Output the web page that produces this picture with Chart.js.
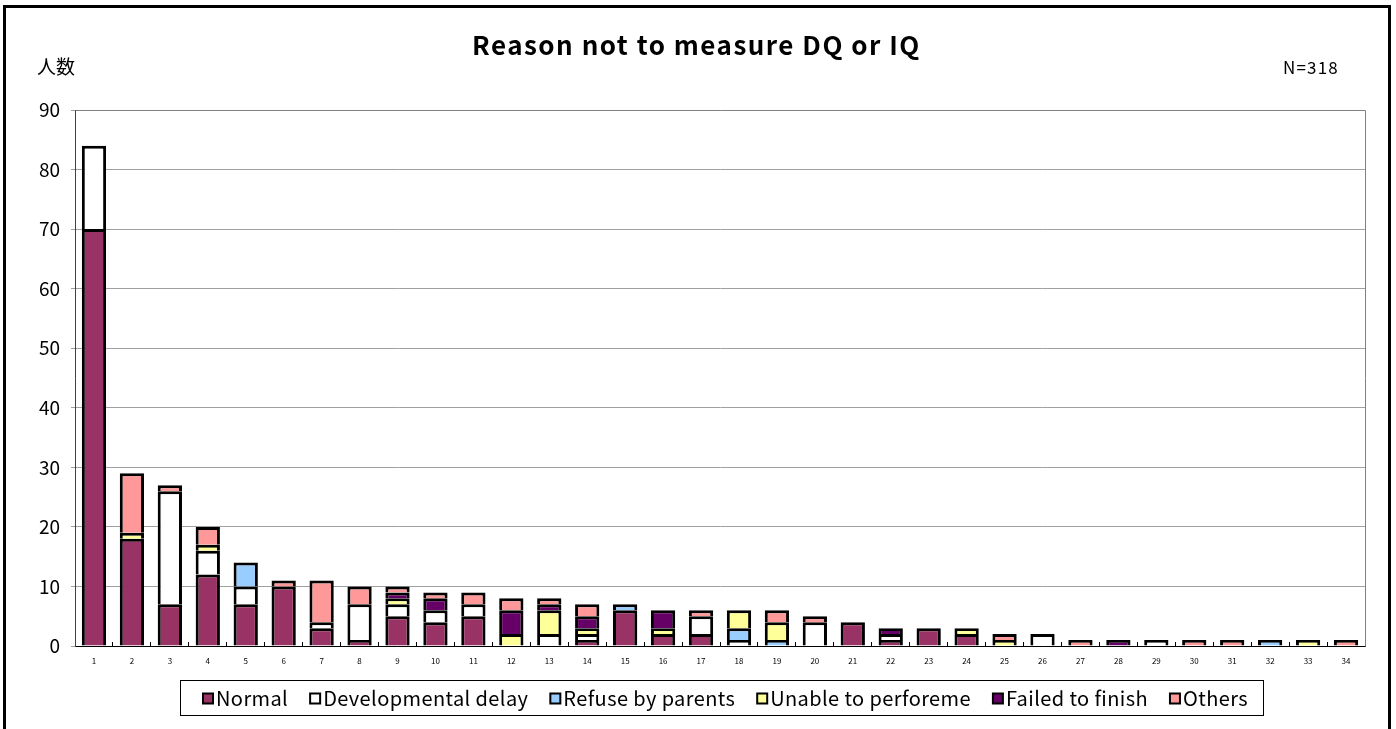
<!DOCTYPE html>
<html>
<head>
<meta charset="utf-8">
<title>Reason not to measure DQ or IQ</title>
<script src="https://cdn.jsdelivr.net/npm/chart.js@4.4.1/dist/chart.umd.min.js"></script>
<style>
  html, body { margin: 0; padding: 0; background: #fff; }
</style>
</head>
<body>
<canvas id="grafico" width="1396" height="729"></canvas>
<script>
// categorias (eixo x) e valores por motivo
const categorias = ["1", "2", "3", "4", "5", "6", "7", "8", "9", "10", "11", "12", "13", "14", "15", "16", "17",
  "18", "19", "20", "21", "22", "23", "24", "25", "26", "27", "28", "29", "30", "31", "32", "33", "34"];

const normal        = [70, 18, 7, 12, 7, 10, 3, 1, 5, 4, 5, 0, 0, 1, 6, 2, 2, 0, 0, 0, 4, 1, 3, 2, 0, 0, 0, 0, 0, 0, 0, 0, 0, 0];
const developmental = [14, 0, 19, 4, 3, 0, 1, 6, 2, 2, 2, 0, 2, 1, 0, 0, 3, 1, 0, 4, 0, 1, 0, 0, 0, 2, 0, 0, 1, 0, 0, 0, 0, 0];
const refuse        = [0, 0, 0, 0, 4, 0, 0, 0, 0, 0, 0, 0, 0, 0, 1, 0, 0, 2, 1, 0, 0, 0, 0, 0, 0, 0, 0, 0, 0, 0, 0, 1, 0, 0];
const unable        = [0, 1, 0, 1, 0, 0, 0, 0, 1, 0, 0, 2, 4, 1, 0, 1, 0, 3, 3, 0, 0, 0, 0, 1, 1, 0, 0, 0, 0, 0, 0, 0, 1, 0];
const failed        = [0, 0, 0, 0, 0, 0, 0, 0, 1, 2, 0, 4, 1, 2, 0, 3, 0, 0, 0, 0, 0, 1, 0, 0, 0, 0, 0, 1, 0, 0, 0, 0, 0, 0];
const others        = [0, 10, 1, 3, 0, 1, 7, 3, 1, 1, 2, 2, 1, 2, 0, 0, 1, 0, 2, 1, 0, 0, 0, 0, 1, 0, 1, 0, 0, 1, 1, 0, 0, 1];

const yTicks = [0, 10, 20, 30, 40, 50, 60, 70, 80, 90];

const FONTE = '"Noto Sans CJK JP", "Noto Sans", sans-serif';

function serie(label, valores, cor) {
  return {
    label: label,
    data: valores.map((v) => (v === 0 ? null : v)),
    backgroundColor: cor,
    borderColor: "#000000",
    borderWidth: 3,
  };
}

const datasets = [
  serie("Normal", normal, "#993366"),
  serie("Developmental delay", developmental, "#FFFFFF"),
  serie("Refuse by parents", refuse, "#99CCFF"),
  serie("Unable to perforeme", unable, "#FFFF99"),
  serie("Failed to finish", failed, "#660066"),
  serie("Others", others, "#FF9999"),
];

// escreve texto esticado ate a largura pedida (fonte do original e mais larga)
function textoLargo(ctx, texto, x, y, largura) {
  ctx.letterSpacing = "0px";
  const w = ctx.measureText(texto).width;
  const extra = (largura - w) / texto.length;
  ctx.letterSpacing = extra.toFixed(2) + "px";
  ctx.fillText(texto, x, y);
  ctx.letterSpacing = "0px";
}

// moldura, titulo, textos e legenda desenhados a mao
const moldura = {
  id: "moldura",
  beforeDraw(chart) {
    const ctx = chart.ctx;
    ctx.save();
    ctx.fillStyle = "#ffffff";
    ctx.fillRect(0, 0, chart.width, chart.height);
    ctx.restore();
  },
  afterDraw(chart) {
    const ctx = chart.ctx;
    const area = chart.chartArea;
    ctx.save();

    // borda cinza da area do grafico (topo e direita)
    ctx.strokeStyle = "#808080";
    ctx.lineWidth = 1;
    ctx.beginPath();
    ctx.moveTo(Math.round(area.left) + 0.5, Math.round(area.top) + 0.5);
    ctx.lineTo(Math.round(area.right) + 0.5, Math.round(area.top) + 0.5);
    ctx.lineTo(Math.round(area.right) + 0.5, Math.round(area.bottom) + 0.5);
    ctx.stroke();

    // moldura externa
    ctx.strokeStyle = "#000000";
    ctx.lineWidth = 3;
    ctx.strokeRect(4.5, 6.5, 1385, 740);

    // titulo
    ctx.fillStyle = "#000000";
    ctx.textBaseline = "middle";
    ctx.textAlign = "left";
    ctx.font = "bold 26px " + FONTE;
    textoLargo(ctx, "Reason not to measure DQ or IQ", 472, 45, 449);

    ctx.font = "19px " + FONTE;
    ctx.fillText("人数", 37, 67);

    ctx.font = "17px " + FONTE;
    textoLargo(ctx, "N=318", 1283, 68, 56);

    // legenda
    const caixa = { x: 180, y: 680, w: 1083, h: 35 };
    ctx.lineWidth = 1;
    ctx.strokeStyle = "#000000";
    ctx.strokeRect(caixa.x + 0.5, caixa.y + 0.5, caixa.w, caixa.h);

    ctx.font = "20px " + FONTE;
    ctx.letterSpacing = "0.4px";
    const quad = 10;
    const gapTexto = 3;
    const larguras = chart.data.datasets.map((d) => ctx.measureText(d.label).width);
    const inicio = 203;
    const fim = 1248;
    const soma = larguras.reduce((a, b) => a + b + quad + gapTexto, 0);
    const gap = (fim - inicio - soma) / (larguras.length - 1);
    let x = inicio;
    const cy = caixa.y + caixa.h / 2 + 1;
    chart.data.datasets.forEach((d, i) => {
      ctx.fillStyle = d.backgroundColor;
      ctx.fillRect(x, cy - quad / 2, quad, quad);
      ctx.strokeStyle = "#000000";
      ctx.lineWidth = 2;
      ctx.strokeRect(x, cy - quad / 2, quad, quad);
      ctx.fillStyle = "#000000";
      ctx.fillText(d.label, x + quad + gapTexto, cy);
      x += quad + gapTexto + larguras[i] + gap;
    });
    ctx.letterSpacing = "0px";

    ctx.restore();
  },
};

new Chart(document.getElementById("grafico"), {
  type: "bar",
  data: {
    labels: categorias,
    datasets: datasets,
  },
  options: {
    responsive: false,
    animation: false,
    layout: {
      padding: { left: 0, right: 31, top: 110, bottom: 57 },
    },
    datasets: {
      bar: {
        categoryPercentage: 1,
        barPercentage: 0.64,
      },
    },
    plugins: {
      legend: { display: false },
      title: { display: false },
      tooltip: { enabled: false },
    },
    scales: {
      x: {
        stacked: true,
        afterFit: (scale) => {
          scale.height = 26;
        },
        grid: {
          offset: true,
          drawOnChartArea: false,
          drawTicks: true,
          tickLength: -4,
          color: "#000000",
        },
        border: { display: true, color: "#000000", width: 1, z: 1 },
        ticks: {
          font: { size: 8, family: FONTE },
          color: "#000000",
          padding: 14,
          maxRotation: 0,
          autoSkip: false,
        },
      },
      y: {
        stacked: true,
        min: 0,
        max: 90,
        afterFit: (scale) => {
          scale.width = 75;
        },
        afterBuildTicks: (scale) => {
          scale.ticks = yTicks.map((v) => ({ value: v }));
        },
        grid: {
          color: "#a0a0a0",
          drawTicks: true,
          tickLength: 4,
        },
        border: { display: true, color: "#404040", width: 1, z: 1 },
        ticks: {
          font: { size: 19, family: FONTE },
          color: "#000000",
          padding: 11,
        },
      },
    },
  },
  plugins: [moldura],
});
</script>
</body>
</html>
